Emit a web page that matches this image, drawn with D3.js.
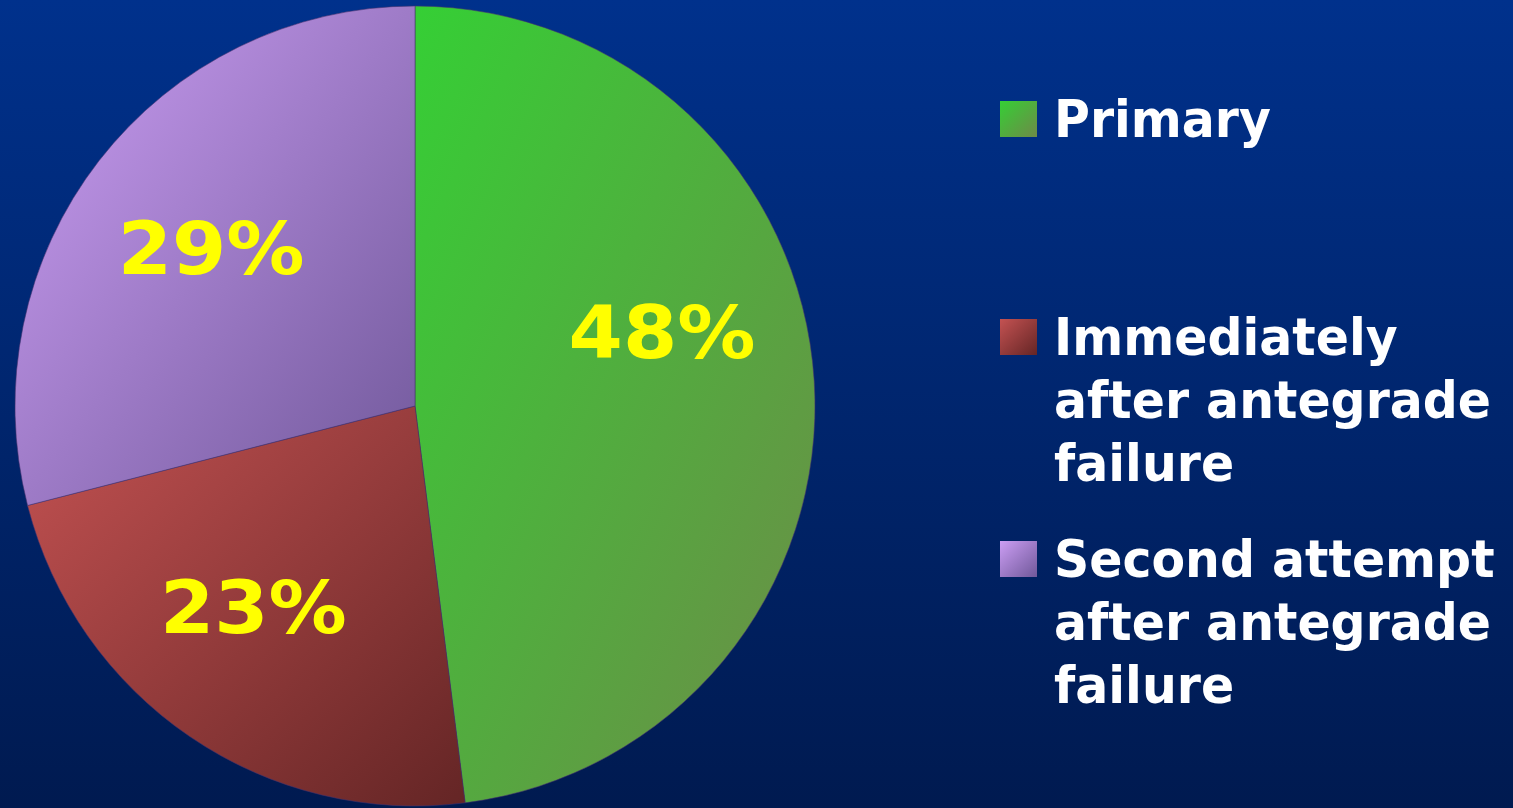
<!DOCTYPE html>
<html>
<head>
<meta charset="utf-8">
<script src="https://cdn.jsdelivr.net/npm/d3@7"></script>
<style>
  html, body { margin: 0; padding: 0; background: #002270; }
  svg { display: block; }
</style>
</head>
<body>
<svg id="chart" width="1513" height="808"></svg>
<script>
// Share of retrograde procedures by strategy
const categories = ["Primary", "Immediately after antegrade failure", "Second attempt after antegrade failure"];
const values = [48, 23, 29];
const valueLabels = ["48%", "23%", "29%"];
const legendLines = [
  ["Primary"],
  ["Immediately", "after antegrade", "failure"],
  ["Second attempt", "after antegrade", "failure"]
];

// slice colours: light corner -> dark corner
const colorStart = ["#35cf35", "#c45252", "#cc9ef4"];
const colorEnd = ["#6e8a48", "#642525", "#70589a"];

const W = 1513, H = 808;
const svg = d3.select("#chart");
const defs = svg.append("defs");

const bg = defs.append("linearGradient").attr("id", "bg")
  .attr("x1", 0).attr("y1", 0).attr("x2", 0).attr("y2", 1);
bg.append("stop").attr("offset", 0).attr("stop-color", "#00318c");
bg.append("stop").attr("offset", 1).attr("stop-color", "#001a50");
svg.append("rect").attr("width", W).attr("height", H).attr("fill", "url(#bg)");

categories.forEach((c, i) => {
  const g = defs.append("linearGradient").attr("id", "g" + i)
    .attr("x1", 0).attr("y1", 0).attr("x2", 1).attr("y2", 1);
  g.append("stop").attr("offset", 0).attr("stop-color", colorStart[i]);
  g.append("stop").attr("offset", 1).attr("stop-color", colorEnd[i]);
});

const cx = 415, cy = 406, R = 400;
const pie = d3.pie().sort(null).value(d => d)(values);
const arc = d3.arc().innerRadius(0).outerRadius(R);

const gPie = svg.append("g").attr("transform", `translate(${cx},${cy})`);
gPie.selectAll("path").data(pie).join("path")
  .attr("d", arc)
  .attr("fill", (d, i) => `url(#g${i})`)
  .attr("stroke", "rgba(70,50,110,0.55)")
  .attr("stroke-width", 1);

// labels sit at ~0.645 R; angle nudged (radians) to keep them clear of slice edges
const labelNudge = [-0.23, 0.08, 0];
const labelR = R * 0.645;
gPie.selectAll("text.val").data(pie).join("text")
  .attr("class", "val")
  .each(function (d, i) {
    const a = (d.startAngle + d.endAngle) / 2 + labelNudge[i];
    const x = labelR * Math.sin(a), y = -labelR * Math.cos(a);
    d3.select(this)
      .attr("transform", `translate(${x},${y}) scale(1.07,1)`);
  })
  .attr("text-anchor", "middle")
  .attr("dy", "0.36em")
  .attr("fill", "#ffff00")
  .attr("font-family", "DejaVu Sans, Verdana, sans-serif")
  .attr("font-weight", "bold")
  .attr("font-size", 73)
  .text((d, i) => valueLabels[i]);

// legend
const legendTop = [137, 355, 577];
const lineH = 63;
const textX = 1054;
const leg = svg.append("g");
categories.forEach((c, i) => {
  const y0 = legendTop[i];
  leg.append("rect")
    .attr("x", 1000).attr("y", y0 - 36)
    .attr("width", 37).attr("height", 36)
    .attr("fill", `url(#g${i})`);
  const t = leg.append("text")
    .attr("transform", `translate(${textX},0) scale(0.96,1)`)
    .attr("font-family", "DejaVu Sans, Verdana, sans-serif")
    .attr("font-weight", "bold")
    .attr("font-size", 51)
    .attr("fill", "#ffffff");
  legendLines[i].forEach((line, j) => {
    t.append("tspan").attr("x", 0).attr("y", y0 + j * lineH).text(line);
  });
});
</script>
</body>
</html>
